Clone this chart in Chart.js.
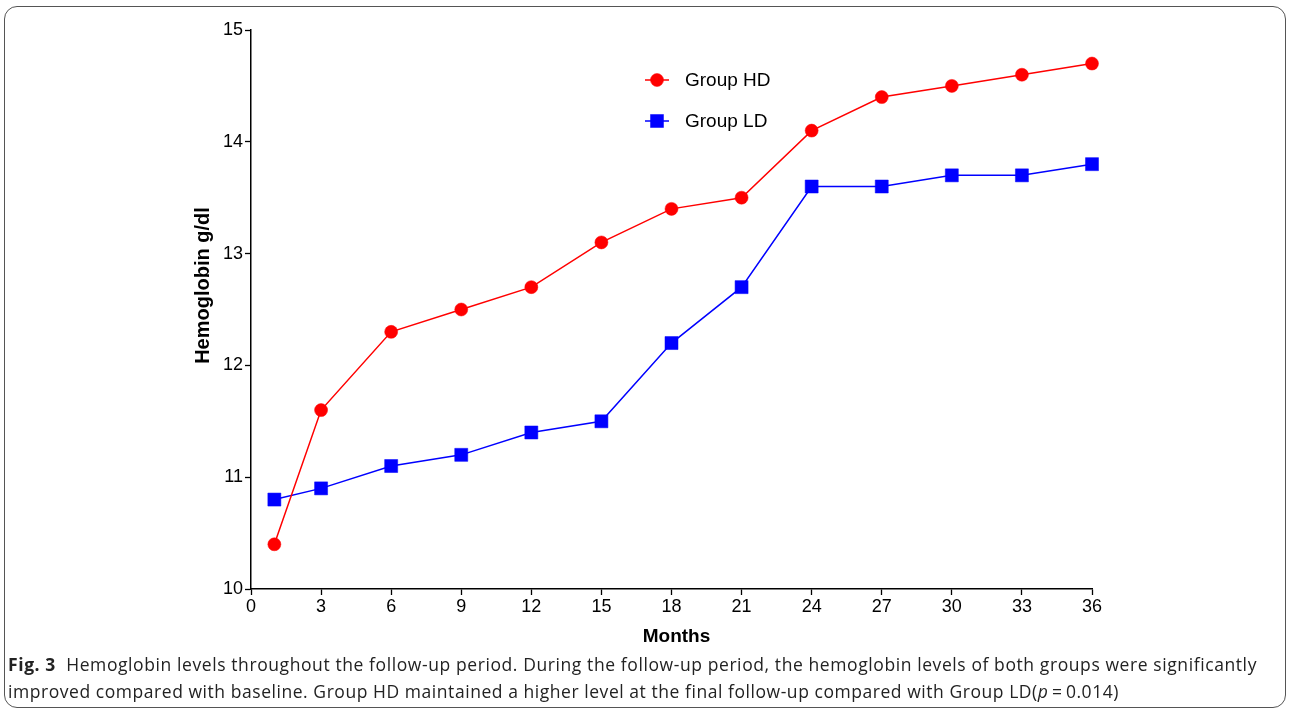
<!DOCTYPE html>
<html>
<head>
<meta charset="utf-8">
<script src="https://cdn.jsdelivr.net/npm/chart.js@4/dist/chart.umd.min.js"></script>
<style>
  html, body { margin: 0; padding: 0; background: #fff; width: 1290px; height: 712px; overflow: hidden; }
  #frame { position: absolute; left: 4px; top: 6px; width: 1282px; height: 702px; border: 1.3px solid #555; border-radius: 13px; box-sizing: border-box; }
  #wrap { position: absolute; left: 0; top: 0; width: 1290px; height: 655px; }
  #cap { position: absolute; left: 8px; top: 651px; font-family: "Open Sans", "Noto Sans", sans-serif; font-size: 17.5px; color: #222; line-height: 27px; white-space: nowrap; }
  #cap div { display: inline-block; }
  #cap b { font-weight: 700; }
</style>
</head>
<body>
<div id="frame"></div>
<div id="wrap"><canvas id="c" width="1290" height="655"></canvas></div>
<div id="cap">
  <div id="l1"><b>Fig. 3</b>&nbsp; Hemoglobin levels throughout the follow-up period. During the follow-up period, the hemoglobin levels of both groups were significantly</div><br>
  <div id="l2">improved compared with baseline. Group HD maintained a higher level at the final follow-up compared with Group LD(<i>p</i>&thinsp;=&thinsp;0.014)</div>
</div>
<script>
const months = [1, 3, 6, 9, 12, 15, 18, 21, 24, 27, 30, 33, 36];
const groupHD = [10.4, 11.6, 12.3, 12.5, 12.7, 13.1, 13.4, 13.5, 14.1, 14.4, 14.5, 14.6, 14.7];
const groupLD = [10.8, 10.9, 11.1, 11.2, 11.4, 11.5, 12.2, 12.7, 13.6, 13.6, 13.7, 13.7, 13.8];
const seriesNames = ["Group HD", "Group LD"];
const xTitle = "Months";
const yTitle = "Hemoglobin g/dl";

// fit caption lines to the reference widths
[['l1', 1249], ['l2', 1111]].forEach(([id, target]) => {
  const el = document.getElementById(id);
  const w = el.getBoundingClientRect().width;
  const n = el.textContent.length;
  el.style.letterSpacing = ((target - w) / n) + 'px';
});

const toPts = (ys) => months.map((m, i) => ({ x: m, y: ys[i] }));
const FAM = '"Liberation Sans", Arial, sans-serif';

const decorPlugin = {
  id: 'decor',
  afterDraw(chart) {
    const ctx = chart.ctx;
    const a = chart.chartArea;
    // legend inside plot
    const x0 = a.left + 394, y0 = a.top + 50, gap = 41;
    chart.data.datasets.forEach((ds, i) => {
      const y = y0 + i * gap;
      ctx.save();
      ctx.strokeStyle = ds.borderColor;
      ctx.lineWidth = ds.borderWidth;
      ctx.beginPath();
      ctx.moveTo(x0, y); ctx.lineTo(x0 + 24, y); ctx.stroke();
      ctx.fillStyle = ds.pointBackgroundColor;
      ctx.strokeStyle = ds.pointBorderColor;
      ctx.lineWidth = ds.pointBorderWidth;
      Chart.helpers.drawPoint(ctx, { pointStyle: ds.pointStyle, rotation: 0, borderWidth: ds.pointBorderWidth, radius: ds.pointRadius }, x0 + 12, y);
      ctx.fillStyle = '#000';
      ctx.font = '19px ' + FAM;
      ctx.textAlign = 'left';
      ctx.textBaseline = 'middle';
      ctx.fillText(ds.label, x0 + 40, y + 1);
      ctx.restore();
    });
    // axis titles
    ctx.save();
    ctx.fillStyle = '#000';
    ctx.textAlign = 'center';
    ctx.textBaseline = 'middle';
    ctx.font = 'bold 19px ' + FAM;
    ctx.fillText(xTitle, (a.left + a.right) / 2 + 5, a.bottom + 48);
    ctx.translate(a.left - 48, (a.top + a.bottom) / 2 - 24);
    ctx.rotate(-Math.PI / 2);
    ctx.font = 'bold 20px ' + FAM;
    ctx.fillText(yTitle, 0, 0);
    ctx.restore();
  }
};

const tickFont = { family: FAM, size: 18 };

new Chart(document.getElementById('c'), {
  type: 'line',
  data: {
    datasets: [
      {
        label: seriesNames[0], data: toPts(groupHD),
        borderColor: '#ff0000', backgroundColor: '#ff0000', borderWidth: 1.5,
        pointStyle: 'circle', pointRadius: 6.5, pointBackgroundColor: '#ff0000', pointBorderColor: '#ff0000', pointBorderWidth: 0.5,
        clip: false, tension: 0
      },
      {
        label: seriesNames[1], data: toPts(groupLD),
        borderColor: '#0000ff', backgroundColor: '#0000ff', borderWidth: 1.5,
        pointStyle: 'rect', pointRadius: 9.2, pointBackgroundColor: '#0000ff', pointBorderColor: '#0000ff', pointBorderWidth: 0.5,
        clip: false, tension: 0
      }
    ]
  },
  options: {
    responsive: false,
    animation: false,
    devicePixelRatio: 1,
    layout: { padding: { top: 30, right: 198, left: 0, bottom: 0 } },
    plugins: { legend: { display: false }, tooltip: { enabled: false } },
    scales: {
      x: {
        type: 'linear', min: 0, max: 36,
        ticks: { stepSize: 3, color: '#000', font: tickFont, padding: 1, maxRotation: 0 },
        grid: { drawOnChartArea: false, drawTicks: true, tickLength: 6, color: '#000', tickColor: '#000', tickWidth: 1.3 },
        border: { display: true, color: '#000', width: 1.5 },
        title: { display: false },
        afterFit(s) { s.height = 66; }
      },
      y: {
        type: 'linear', min: 10, max: 15,
        ticks: { stepSize: 1, color: '#000', font: tickFont, padding: 2 },
        grid: { drawOnChartArea: false, drawTicks: true, tickLength: 6, color: '#000', tickColor: '#000', tickWidth: 1.3 },
        border: { display: true, color: '#000', width: 1.5 },
        title: { display: false },
        afterFit(s) { s.width = 251; }
      }
    }
  },
  plugins: [decorPlugin]
});
</script>
</body>
</html>
